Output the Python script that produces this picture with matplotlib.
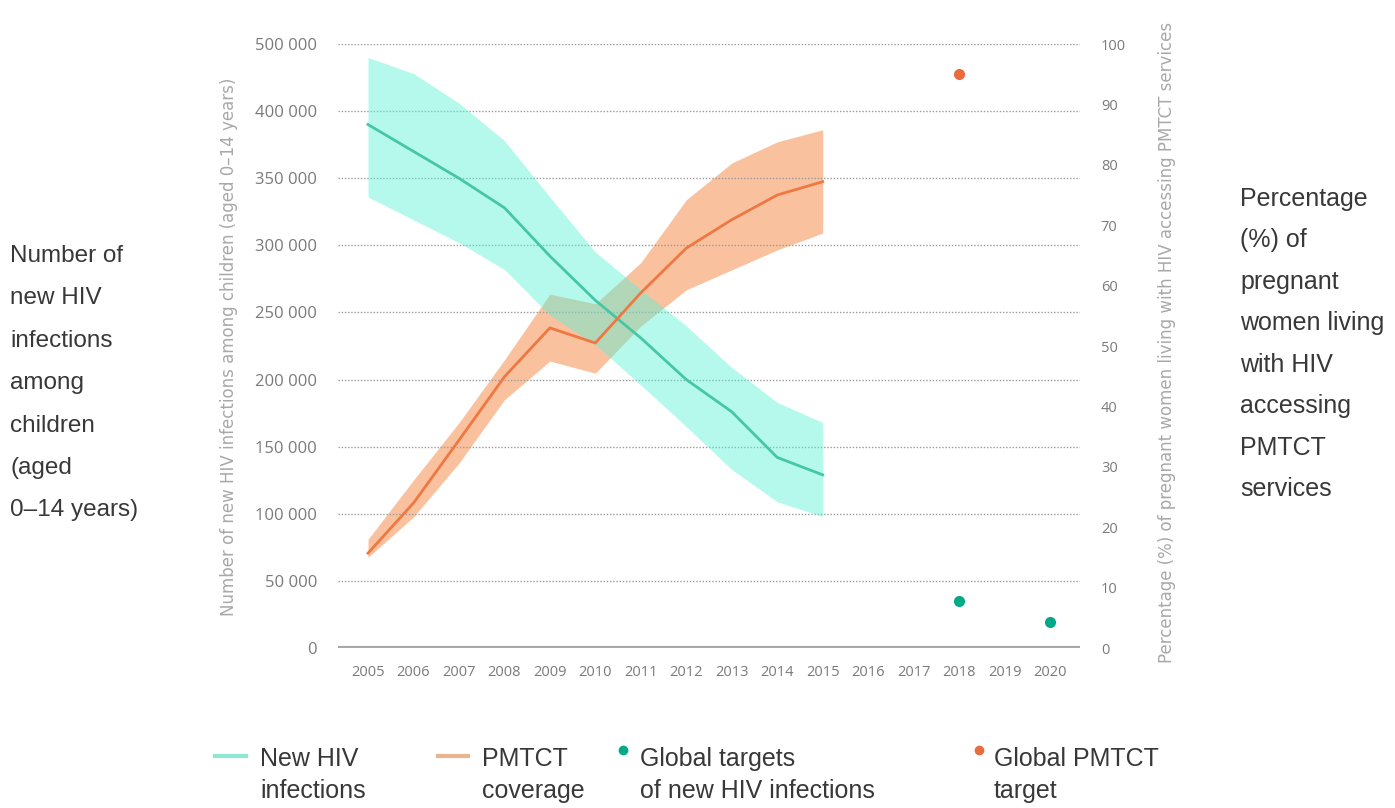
import matplotlib
matplotlib.use("Agg")
import matplotlib.pyplot as plt
from matplotlib import font_manager
from matplotlib.lines import Line2D

# ---- data ------------------------------------------------------------------
years = [2005, 2006, 2007, 2008, 2009, 2010, 2011, 2012, 2013, 2014, 2015]

new_infections = [390000, 370000, 350000, 328000, 292000, 259000,
                  231000, 200000, 176000, 142000, 129000]
new_inf_low = [336000, 319000, 302000, 282000, 248000, 226000,
               196000, 165000, 133000, 109000, 98000]
new_inf_high = [440000, 428000, 406000, 378000, 336000, 295000,
                267000, 240000, 209000, 183000, 168000]

pmtct = [15.7, 24.0, 34.4, 44.9, 53.0, 50.5, 58.8, 66.2, 70.9, 75.0, 77.2]
pmtct_low = [15.0, 21.7, 30.6, 41.1, 47.5, 45.5, 53.3, 59.3, 62.6, 65.9, 68.7]
pmtct_high = [18.0, 27.8, 37.3, 47.7, 58.6, 57.0, 63.8, 74.2, 80.3, 83.8, 85.8]

target_inf_years = [2018, 2020]
target_inf = [35000, 19000]
target_pmtct_years = [2018]
target_pmtct = [95]

x_ticks = list(range(2005, 2021))
left_ticks = [0, 50000, 100000, 150000, 200000, 250000, 300000, 350000, 400000, 450000]
left_labels = ["0", "50 000", "100 000", "150 000", "200 000", "250 000",
               "300 000", "350 000", "400 000", "500 000"]
right_ticks = list(range(0, 101, 10))

left_axis_label = "Number of new HIV infections among children (aged 0–14 years)"
right_axis_label = "Percentage (%) of pregnant women living with HIV accessing PMTCT services"
left_note = "Number of\nnew HIV\ninfections\namong\nchildren\n(aged\n0–14 years)"
right_note = ("Percentage\n(%) of\npregnant\nwomen living\nwith HIV\n"
              "accessing\nPMTCT\nservices")
legend_labels = ["New HIV\ninfections", "PMTCT\ncoverage",
                 "Global targets\nof new HIV infections", "Global PMTCT\ntarget"]

# ---- style -----------------------------------------------------------------
TEAL_FILL = "#5cf2d8"
TEAL_LINE = "#45c7a6"
TEAL_DOT = "#00a987"
ORANGE_FILL = "#f6853f"
ORANGE_LINE = "#ef7842"
ORANGE_DOT = "#ea6b3e"
GRID = "#9a9a9a"
TICK_COLOR = "#7a7a7a"
NOTE_COLOR = "#383838"

installed = {f.name for f in font_manager.fontManager.ttflist}
TICK_FONT = "Open Sans" if "Open Sans" in installed else "DejaVu Sans"
NOTE_FONT = "Liberation Sans"

W, H = 1395, 808


def fx(px):
    return px / W


def fy(py):
    return 1 - py / H


fig = plt.figure(figsize=(W / 100, H / 100), dpi=100)
ax = fig.add_axes([fx(338), fy(648), fx(1080) - fx(338), fy(44) - fy(648)])
ax2 = ax.twinx()
# teal axis on top so its band tints the orange band where they overlap
ax.set_zorder(ax2.get_zorder() + 1)
ax.patch.set_visible(False)

ax2.fill_between(years, pmtct_low, pmtct_high, color=ORANGE_FILL, alpha=0.5,
                 linewidth=0)
ax.fill_between(years, new_inf_low, new_inf_high, color=TEAL_FILL, alpha=0.45,
                linewidth=0, zorder=2)
ax.plot(years, new_infections, color=TEAL_LINE, linewidth=2, zorder=3)
ax.plot(years, pmtct, color=ORANGE_LINE, linewidth=2, zorder=4,
        transform=ax2.transData)
ax.plot(target_inf_years, target_inf, "o", color=TEAL_DOT, markersize=8,
        markeredgewidth=0, zorder=5)
ax.plot(target_pmtct_years, target_pmtct, "o", color=ORANGE_DOT, markersize=8,
        markeredgewidth=0, zorder=5, transform=ax2.transData)

ax.set_xlim(2004.34, 2020.66)
ax.set_ylim(0, 450000)
ax2.set_ylim(0, 100)

ax.set_yticks(left_ticks)
ax.set_yticklabels(left_labels, fontfamily=TICK_FONT, fontsize=12, color=TICK_COLOR)
ax.set_xticks(x_ticks)
ax.set_xticklabels([str(y) for y in x_ticks], fontfamily=TICK_FONT, fontsize=10.5,
                   color=TICK_COLOR)
ax2.set_yticks(right_ticks)
ax2.set_yticklabels([str(v) for v in right_ticks], fontfamily=TICK_FONT,
                    fontsize=10.5, color=TICK_COLOR)
ax.tick_params(axis="y", length=0, pad=15)
ax.tick_params(axis="x", length=0, pad=12)
ax2.tick_params(axis="y", length=0, pad=15)

ax.grid(axis="y", linestyle=(0, (1, 1.3)), color=GRID, linewidth=1.0)
ax.grid(axis="x", visible=False)
ax.set_axisbelow(True)
ax.axhline(0, color="#a9a9a9", linewidth=3, zorder=1)
for a in (ax, ax2):
    for side in a.spines.values():
        side.set_visible(False)

# rotated axis titles
fig.text(fx(229), fy(347), left_axis_label, rotation=90, ha="center", va="center",
         fontsize=12, color="#a8a8a8", family="DejaVu Sans")
fig.text(fx(1167), fy(342), right_axis_label, rotation=90, ha="center", va="center",
         fontsize=12, color="#a8a8a8", family="DejaVu Sans")

# side notes
fig.text(fx(10), fy(245), left_note, ha="left", va="top", fontsize=17.5,
         color=NOTE_COLOR, family=NOTE_FONT, linespacing=2.2)
fig.text(fx(1240), fy(187), right_note, ha="left", va="top", fontsize=18,
         color=NOTE_COLOR, family=NOTE_FONT, linespacing=1.92)

# legend along the bottom
leg_handles = [("line", "#8fe8d3", 215, 246, 260),
               ("line", "#e8b58f", 438, 468, 482),
               ("dot", TEAL_DOT, 623, 623, 640),
               ("dot", ORANGE_DOT, 979, 979, 994)]
for (kind, color, x0, x1, xt), label in zip(leg_handles, legend_labels):
    if kind == "line":
        fig.add_artist(Line2D([fx(x0), fx(x1)], [fy(756), fy(756)], color=color,
                              linewidth=3, transform=fig.transFigure))
    else:
        fig.add_artist(Line2D([fx(x0)], [fy(750)], marker="o", color=color,
                              markersize=7, markeredgewidth=0,
                              transform=fig.transFigure))
    fig.text(fx(xt), fy(747), label, ha="left", va="top", fontsize=18,
             color=NOTE_COLOR, family=NOTE_FONT, linespacing=1.4)

fig.savefig("out.png", dpi=100)
